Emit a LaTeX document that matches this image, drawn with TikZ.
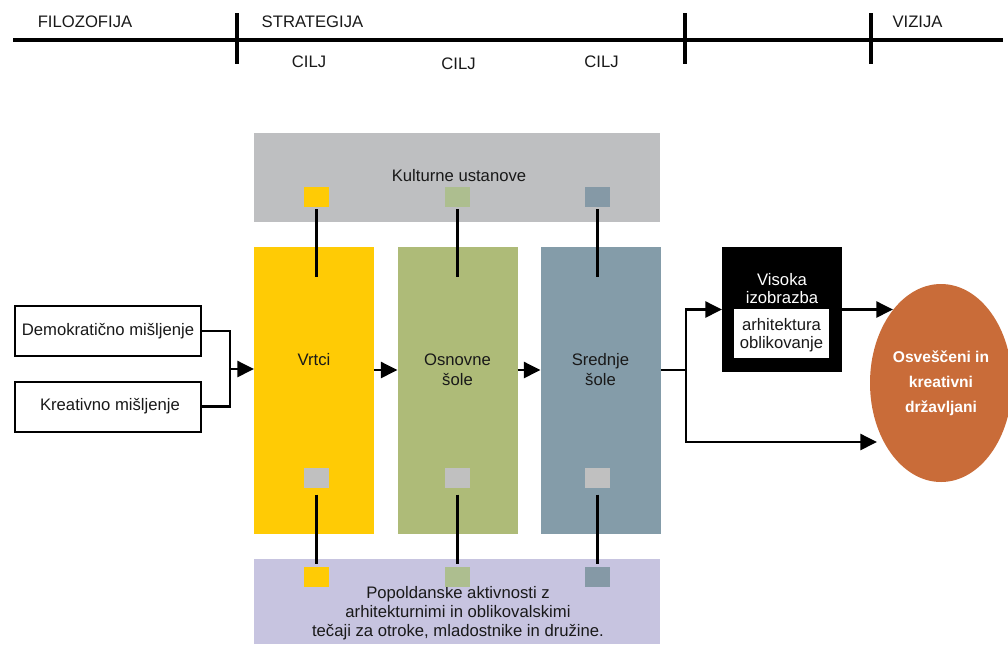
\documentclass[tikz,border=0pt]{standalone}
\usepackage{fontspec}
\setmainfont{Liberation Sans}
\usetikzlibrary{arrows.meta,shapes.geometric}
\definecolor{cyellow}{RGB}{255,203,5}
\definecolor{cgreen}{RGB}{174,187,120}
\definecolor{cblue}{RGB}{132,156,169}
\definecolor{sgreen}{RGB}{173,190,143}
\definecolor{sblue}{RGB}{133,153,166}
\definecolor{cgray}{RGB}{190,191,193}
\definecolor{sgray}{RGB}{192,192,192}
\definecolor{clav}{RGB}{199,196,224}
\definecolor{corange}{RGB}{201,108,57}
\begin{document}
\begin{tikzpicture}[x=0.75pt,y=-0.75pt,
  every node/.style={inner sep=0pt,outer sep=0pt},
  txt/.style={font=\fontsize{12.5}{15}\selectfont,align=center,text=black!90},
  panel/.style={minimum width=304.5pt},
  column/.style={minimum width=90pt,minimum height=215.25pt},
  sq/.style={minimum width=18.75pt,minimum height=15pt},
  wbox/.style={draw=black,line width=1.5pt,fill=white,minimum width=139.5pt,minimum height=37.5pt},
  conn/.style={line width=1.9pt},
  vline/.style={line width=2.25pt},
  arr/.style={line width=1.9pt,-{Triangle[length=12.5pt,width=12pt]}},
  axis/.style={line width=3.6pt},
]
\useasboundingbox (0,0) rectangle (1008,644);

% timeline
\coordinate (tl) at (13,40);
\coordinate (tr) at (1003,40);
\coordinate (t1a) at (237,13); \coordinate (t1b) at (237,64);
\coordinate (t2a) at (685,13); \coordinate (t2b) at (685,64);
\coordinate (t3a) at (871,13); \coordinate (t3b) at (871,64);
\draw[axis] (tl) -- (tr);
\draw[axis] (t1a) -- (t1b);
\draw[axis] (t2a) -- (t2b);
\draw[axis] (t3a) -- (t3b);
\node[txt] (filo) at (85,22) {FILOZOFIJA};
\node[txt] (strat) at (312.5,22) {STRATEGIJA};
\node[txt] (vizija) at (917.5,22) {VIZIJA};
\node[txt] (cilj1) at (309,62) {CILJ};
\node[txt] (cilj2) at (458.5,64) {CILJ};
\node[txt] (cilj3) at (601.5,62) {CILJ};

% panels
\node[panel,fill=cgray,minimum height=66.75pt] (kult) at (457,177.5) {};
\node[txt] (kulttxt) at (459,176) {Kulturne ustanove};
\node[panel,fill=clav,minimum height=63.75pt] (pop) at (457,601.5) {};
\node[txt,font=\fontsize{12.5}{14.25}\selectfont] (poptxt) at (458,613) {Popoldanske aktivnosti z\\arhitekturnimi in oblikovalskimi\\tečaji za otroke, mladostnike in družine.};

% columns
\node[column,fill=cyellow] (vrtci) at (314,390.5) {};
\node[column,fill=cgreen] (osn) at (457.5,390.5) {};
\node[column,fill=cblue] (sred) at (600.5,390.5) {};
\node[txt] (vrtcitxt) at (314,360) {Vrtci};
\node[txt] (osntxt) at (457.5,370) {Osnovne\\šole};
\node[txt] (sredtxt) at (600.5,370) {Srednje\\šole};

% small squares
\node[sq,fill=cyellow] (k1) at (316.5,197) {};
\node[sq,fill=sgreen] (k2) at (457.5,197) {};
\node[sq,fill=sblue] (k3) at (597.5,197) {};
\node[sq,fill=sgray] (g1) at (316.5,478) {};
\node[sq,fill=sgray] (g2) at (457.5,478) {};
\node[sq,fill=sgray] (g3) at (597.5,478) {};
\node[sq,fill=cyellow] (p1) at (316.5,576.5) {};
\node[sq,fill=sgreen] (p2) at (457.5,576.5) {};
\node[sq,fill=sblue] (p3) at (597.5,576.5) {};

\coordinate (e1) at (316.5,277);
\coordinate (e2) at (457.5,277);
\coordinate (e3) at (597.5,277);
\draw[vline,shorten <=1.5pt] (k1.south) -- (e1);
\draw[vline,shorten <=1.5pt] (k2.south) -- (e2);
\draw[vline,shorten <=1.5pt] (k3.south) -- (e3);
\draw[vline,shorten <=5pt,shorten >=2.25pt] (g1.south) -- (p1.north);
\draw[vline,shorten <=5pt,shorten >=2.25pt] (g2.south) -- (p2.north);
\draw[vline,shorten <=5pt,shorten >=2.25pt] (g3.south) -- (p3.north);

% left boxes
\node[wbox] (dem) at (108,331) {};
\node[txt] (demtxt) at (108,331) {Demokratično mišljenje};
\node[wbox] (kre) at (108,406.5) {};
\node[txt] (kretxt) at (110,406.5) {Kreativno mišljenje};
\coordinate (merge) at (230,369);
\draw[conn] (dem.east) -| (merge);
\draw[conn] (kre.east) -| (merge);
\draw[arr] (merge) -- (vrtci.west |- merge);

% column arrows
\coordinate (row) at (0,370);
\draw[arr] (vrtci.east |- row) -- (osn.west |- row);
\draw[arr] (osn.east |- row) -- (sred.west |- row);

% Visoka
\node[fill=black,minimum width=90pt,minimum height=93.75pt] (vis) at (782,309.5) {};
\node[txt,text=white,font=\fontsize{12.5}{13.5}\selectfont] (vistxt) at (782,289) {Visoka\\izobrazba};
\node[fill=white,minimum width=71.25pt,minimum height=36.75pt] (arh) at (781.5,333.5) {};
\node[txt,font=\fontsize{12.5}{13.5}\selectfont] (arhtxt) at (781.5,335) {arhitektura\\oblikovanje};

% ellipse
\node[ellipse,fill=corange,minimum width=106.5pt,minimum height=148.5pt] (ell) at (941,383) {};
\node[align=center,text=white,font=\bfseries\fontsize{11.7}{18.75}\selectfont] (elltxt) at (941,383.5) {Osveščeni in\\kreativni\\državljani};

% right connectors
\coordinate (split) at (686,370);
\coordinate (ellin1) at (893,309.5);
\coordinate (ellin2) at (877,442);
\draw[conn] (sred.east |- row) -- (split);
\draw[arr] (split) |- (vis.west);
\draw[arr] (split) |- (ellin2);
\draw[arr] (vis.east) -- (ellin1);
\end{tikzpicture}
\end{document}
